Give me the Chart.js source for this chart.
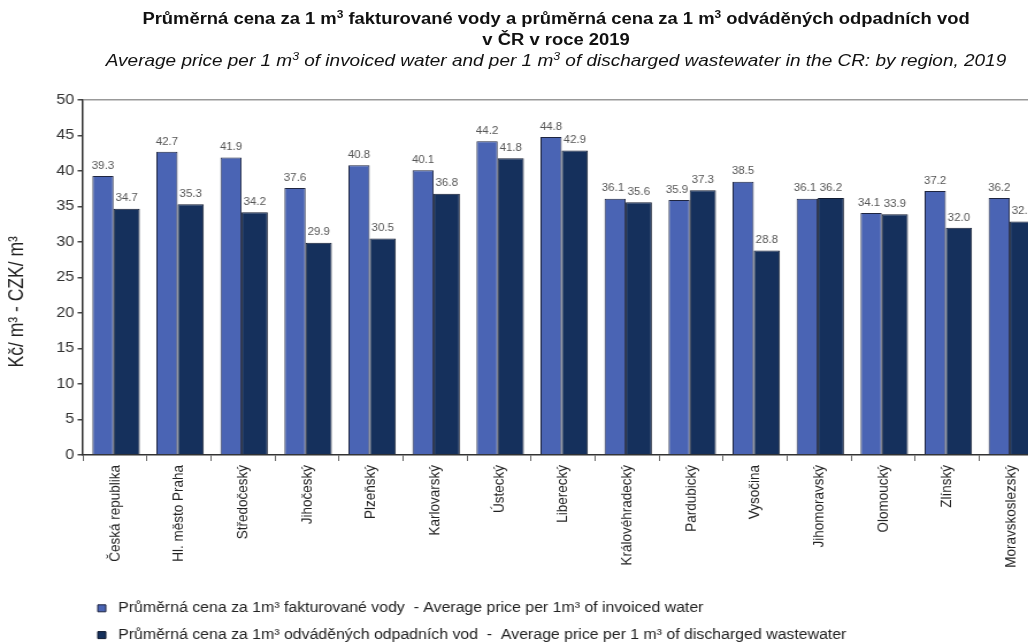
<!DOCTYPE html>
<html>
<head>
<meta charset="utf-8">
<script src="https://cdn.jsdelivr.net/npm/chart.js@4"></script>
<style>
  html, body { margin: 0; padding: 0; background: #fff; overflow: hidden; }
  /* the reference is stretched sideways, so is this */
  #wrap {
    position: relative; width: 907px; height: 652px;
    transform: scaleX(1.15); transform-origin: 0 0;
  }
  #titles {
    position: absolute; left: 0; top: 0; width: 967px; text-align: center;
    font-family: "Liberation Sans", Arial, sans-serif; color: #111;
  }
  #titles .t1 { font-weight: bold; font-size: 16px; line-height: 21px; padding-top: 8px; }
  #titles .t2 { font-style: italic; font-size: 16.5px; line-height: 20px; }
  sup { font-size: 65%; line-height: 0; }
</style>
</head>
<body>
<div id="wrap">
  <canvas id="chart"></canvas>
  <div id="titles">
    <div class="t1">Průměrná cena za 1 m<sup>3</sup> fakturované vody a průměrná cena za 1 m<sup>3</sup> odváděných odpadních vod<br>v ČR v roce 2019</div>
    <div class="t2">Average price per 1 m<sup>3</sup> of invoiced water and per 1 m<sup>3</sup> of discharged wastewater in the CR: by region, 2019</div>
  </div>
</div>
<script>
// regions, CZK per m3
const regions = [
  'Česká republika', 'Hl. město Praha', 'Středočeský', 'Jihočeský', 'Plzeňský',
  'Karlovarský', 'Ústecký', 'Liberecký', 'Královéhradecký', 'Pardubický',
  'Vysočina', 'Jihomoravský', 'Olomoucký', 'Zlínský', 'Moravskoslezský'
];
const waterPrice      = [39.3, 42.7, 41.9, 37.6, 40.8, 40.1, 44.2, 44.8, 36.1, 35.9, 38.5, 36.1, 34.1, 37.2, 36.2];
const wastewaterPrice = [34.7, 35.3, 34.2, 29.9, 30.5, 36.8, 41.8, 42.9, 35.6, 37.3, 28.8, 36.2, 33.9, 32.0, 32.9];

const waterLabel      = ' Průměrná cena za 1m³ fakturované vody  - Average price per 1m³ of invoiced water';
const wastewaterLabel = ' Průměrná cena za 1m³ odváděných odpadních vod  -  Average price per 1 m³ of discharged wastewater';

const FONT = '"Liberation Sans", Arial, sans-serif';
const NB = '\u00A0';

// value labels over the bars; pushes the pair apart when they would touch
const barValues = {
  id: 'barValues',
  afterDatasetsDraw(chart) {
    const ctx = chart.ctx;
    ctx.save();
    ctx.font = '10px ' + FONT;
    ctx.fillStyle = '#555';
    ctx.textAlign = 'center';
    ctx.textBaseline = 'bottom';
    const a = chart.getDatasetMeta(0).data;
    const b = chart.getDatasetMeta(1).data;
    regions.forEach((_, j) => {
      const ta = waterPrice[j].toFixed(1);
      const tb = wastewaterPrice[j].toFixed(1);
      let xa = a[j].x, xb = b[j].x;
      const ya = a[j].y - 5, yb = b[j].y - 5;
      if (Math.abs(ya - yb) < 11) {
        const gap = (xb - ctx.measureText(tb).width / 2) - (xa + ctx.measureText(ta).width / 2);
        if (gap < 3) xa -= (3 - gap);
      }
      ctx.fillText(ta, xa, ya);
      ctx.fillText(tb, xb, yb);
    });
    ctx.restore();
  }
};

new Chart(document.getElementById('chart'), {
  type: 'bar',
  data: {
    labels: regions,
    datasets: [
      {
        label: waterLabel,
        data: waterPrice,
        backgroundColor: '#4a64b4',
        borderColor: '#1e2540',
        borderWidth: 1,
        borderSkipped: 'bottom',
        barPercentage: 0.894,
      },
      {
        label: wastewaterLabel,
        data: wastewaterPrice,
        backgroundColor: '#15305c',
        borderColor: '#101a30',
        borderWidth: 1,
        borderSkipped: 'bottom',
        barPercentage: 1.106,
      },
    ],
  },
  options: {
    responsive: true,
    maintainAspectRatio: false,
    animation: false,
    datasets: {
      bar: { categoryPercentage: 0.74 },
    },
    layout: { padding: { top: 100, left: 0, right: 0, bottom: 0 } },
    scales: {
      x: {
        afterFit: (axis) => { axis.height = 133.4; },
        grid: {
          offset: true,
          drawOnChartArea: false,
          tickLength: 6,
          tickColor: '#666',
        },
        border: { color: '#333', width: 1.5 },
        ticks: {
          minRotation: 90,
          maxRotation: 90,
          autoSkip: false,
          padding: 4,
          color: '#222',
          font: { family: FONT, size: 13.5 },
        },
      },
      y: {
        min: 0,
        max: 50,
        afterFit: (axis) => { axis.width = 72; },
        grid: {
          color: (c) => (c.tick && c.tick.value === 50 ? '#999' : 'rgba(0,0,0,0)'),
          lineWidth: 1.5,
          tickColor: '#444',
          tickLength: 4.5,
        },
        border: { color: '#333', width: 1.5 },
        ticks: {
          stepSize: 5,
          padding: 3,
          color: '#333',
          font: { family: FONT, size: 14 },
        },
        title: {
          display: true,
          text: 'Kč/ m³ - CZK/ m³' + NB.repeat(10),
          color: '#222',
          padding: { top: 5, bottom: 0 },
          font: { family: FONT, size: 17.5 },
        },
      },
    },
    plugins: {
      legend: {
        position: 'bottom',
        align: 'start',
        fullSize: false,
        labels: {
          boxWidth: 7,
          boxHeight: 7,
          padding: 13,
          color: '#222',
          font: { family: FONT, size: 13.8 },
        },
      },
      tooltip: { enabled: false },
    },
  },
  plugins: [barValues],
});
</script>
</body>
</html>
